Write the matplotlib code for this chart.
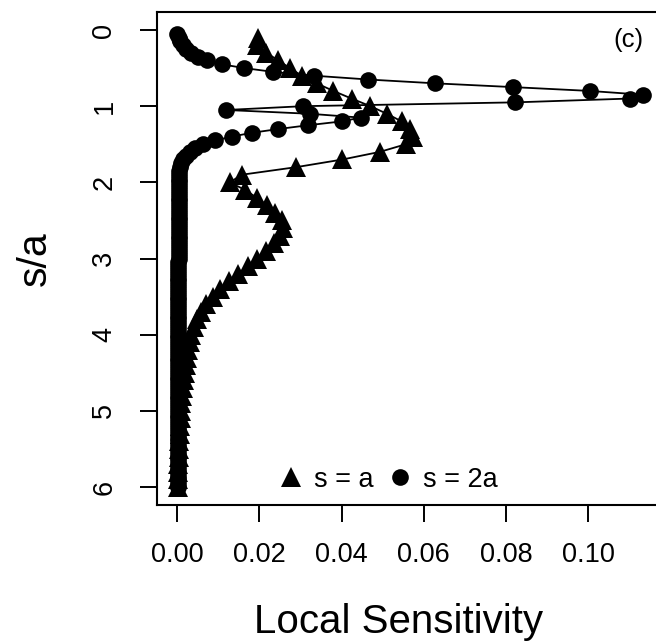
import matplotlib
matplotlib.use("Agg")
import matplotlib.pyplot as plt
from matplotlib.lines import Line2D

plt.rcParams['font.family'] = ['Liberation Sans', 'DejaVu Sans']

# s = a  (triangles), sampled every 0.1 in s/a
depth_a = [0.1, 0.2, 0.3, 0.4, 0.5, 0.6, 0.7, 0.8, 0.9, 1.0,
           1.1, 1.2, 1.3, 1.4, 1.5, 1.6, 1.7, 1.8, 1.9, 2.0,
           2.1, 2.2, 2.3, 2.4, 2.5, 2.6, 2.7, 2.8, 2.9, 3.0,
           3.1, 3.2, 3.3, 3.4, 3.5, 3.6, 3.7, 3.8, 3.9, 4.0,
           4.1, 4.2, 4.3, 4.4, 4.5, 4.6, 4.7, 4.8, 4.9, 5.0,
           5.1, 5.2, 5.3, 5.4, 5.5, 5.6, 5.7, 5.8, 5.9, 6.0]
sens_a = [0.0197, 0.0193, 0.0217, 0.0246, 0.0274, 0.0303, 0.0339, 0.0380, 0.0424, 0.0470,
          0.0510, 0.0546, 0.0566, 0.0574, 0.0556, 0.0493, 0.0402, 0.0290, 0.0157, 0.0128,
          0.0165, 0.0193, 0.0218, 0.0238, 0.0254, 0.0258, 0.0250, 0.0236, 0.0216, 0.0195,
          0.0172, 0.0148, 0.0125, 0.0104, 0.0086, 0.0070, 0.0058, 0.0048, 0.0040, 0.0034,
          0.0030, 0.0027, 0.0024, 0.0021, 0.0018, 0.0016, 0.0014, 0.0012, 0.0010, 0.0009,
          0.0008, 0.0007, 0.0006, 0.0005, 0.0004, 0.0003, 0.0002, 0.0002, 0.0001, 0.0001]

# s = 2a  (circles), sampled every 0.05 in s/a
depth_2a = [0.05, 0.10, 0.15, 0.20, 0.25, 0.30, 0.35, 0.40, 0.45, 0.50,
            0.55, 0.60, 0.65, 0.70, 0.75, 0.80, 0.85, 0.90, 0.95, 1.00,
            1.05, 1.10, 1.15, 1.20, 1.25, 1.30, 1.35, 1.40, 1.45, 1.50,
            1.55, 1.60, 1.65, 1.70, 1.75, 1.80, 1.85, 1.90, 1.95, 2.00,
            2.05, 2.10, 2.15, 2.20, 2.25, 2.30, 2.35, 2.40, 2.45, 2.50,
            2.55, 2.60, 2.65, 2.70, 2.75, 2.80, 2.85, 2.90, 2.95, 3.00,
            3.05, 3.10, 3.15, 3.20, 3.25, 3.30, 3.35, 3.40, 3.45, 3.50,
            3.55, 3.60, 3.65, 3.70, 3.75, 3.80, 3.85, 3.90, 3.95, 4.00,
            4.05, 4.10, 4.15, 4.20, 4.25, 4.30, 4.35, 4.40, 4.45, 4.50,
            4.55, 4.60, 4.65, 4.70, 4.75, 4.80, 4.85, 4.90, 4.95, 5.00,
            5.05, 5.10, 5.15, 5.20, 5.25, 5.30, 5.35, 5.40, 5.45, 5.50,
            5.55, 5.60, 5.65, 5.70, 5.75, 5.80, 5.85, 5.90, 5.95, 6.00]
sens_2a = [0.0000, 0.0003, 0.0007, 0.0013, 0.0022, 0.0034, 0.0050, 0.0072, 0.0108, 0.0163,
           0.0234, 0.0333, 0.0465, 0.0627, 0.0818, 0.1004, 0.1134, 0.1101, 0.0822, 0.0307,
           0.0119, 0.0323, 0.0446, 0.0400, 0.0319, 0.0246, 0.0181, 0.0132, 0.0092, 0.0063,
           0.0043, 0.0030, 0.0021, 0.0014, 0.0010, 0.0007, 0.0005, 0.0004, 0.0003, 0.0003,
           0.0003, 0.0003, 0.0003, 0.0003, 0.0003, 0.0003, 0.0003, 0.0003, 0.0003, 0.0003,
           0.0003, 0.0003, 0.0003, 0.0003, 0.0003, 0.0003, 0.0003, 0.0003, 0.0003, 0.0003,
           0.0002, 0.0002, 0.0002, 0.0002, 0.0002, 0.0002, 0.0002, 0.0002, 0.0002, 0.0002,
           0.0002, 0.0002, 0.0002, 0.0002, 0.0002, 0.0002, 0.0002, 0.0002, 0.0002, 0.0002,
           0.0002, 0.0002, 0.0002, 0.0002, 0.0002, 0.0002, 0.0002, 0.0002, 0.0002, 0.0002,
           0.0001, 0.0001, 0.0001, 0.0001, 0.0001, 0.0001, 0.0001, 0.0001, 0.0001, 0.0001,
           0.0001, 0.0001, 0.0001, 0.0001, 0.0001, 0.0001, 0.0001, 0.0001, 0.0001, 0.0001,
           0.0001, 0.0001, 0.0001, 0.0001, 0.0001, 0.0001, 0.0001, 0.0001, 0.0001, 0.0001]

x_ticks = [0.00, 0.02, 0.04, 0.06, 0.08, 0.10]
x_labels = ['0.00', '0.02', '0.04', '0.06', '0.08', '0.10']
y_ticks = [0, 1, 2, 3, 4, 5, 6]

fig = plt.figure(figsize=(6.56, 6.43), dpi=100)
ax = fig.add_axes([0.2393, 0.2146, 0.7607, 0.7667])

ax.plot(sens_a, depth_a, color='black', lw=1.3, marker='^', ms=14,
        markeredgewidth=0)
ax.plot(sens_2a, depth_2a, color='black', lw=1.3, marker='o', ms=12,
        markeredgewidth=0)

ax.set_xlim(-0.00494, 0.1165)
ax.set_ylim(6.236, -0.236)

ax.set_xticks(x_ticks)
ax.set_xticklabels(x_labels)
ax.set_yticks(y_ticks)
ax.tick_params(axis='both', length=12.5, width=1.4, labelsize=19.5, color='black')
ax.tick_params(axis='x', pad=14)
ax.tick_params(axis='y', pad=16, labelrotation=90)
for lab in ax.get_yticklabels():
    lab.set_va('center')

for side in ['left', 'top', 'bottom']:
    ax.spines[side].set_linewidth(1.5)
ax.spines['right'].set_visible(False)

ax.text(0.484, -0.238, 'Local Sensitivity', transform=ax.transAxes,
        ha='center', va='center', fontsize=29)
ax.text(-0.2445, 0.5, 's/a', transform=ax.transAxes, rotation=90,
        ha='center', va='center', fontsize=29.5)
ax.text(0.944, 0.943, '(c)', transform=ax.transAxes, ha='center',
        va='center', fontsize=18.5)

handles = [Line2D([], [], ls='none', color='black', marker='^', ms=14, mew=0),
           Line2D([], [], ls='none', color='black', marker='o', ms=12, mew=0)]
ax.legend(handles, ['s = a', 's = 2a'], loc='center',
          bbox_to_anchor=(0.462, 0.051), ncol=2, frameon=False,
          fontsize=19.5, handlelength=1.0, handletextpad=0.35,
          columnspacing=0.45, borderpad=0, borderaxespad=0)

fig.savefig('out.png', dpi=100)
